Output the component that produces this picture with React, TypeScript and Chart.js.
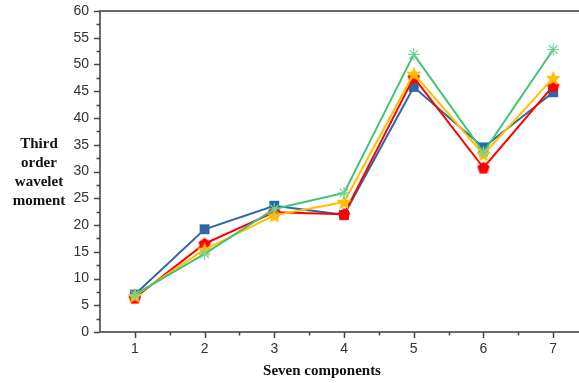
import React, { useEffect, useRef } from "react";
import { Chart, registerables } from "chart.js";

Chart.register(...registerables);

const categories = [1, 2, 3, 4, 5, 6, 7];
const blueValues = [7.0, 19.2, 23.6, 21.9, 45.8, 34.5, 44.8];
const redValues = [6.4, 16.5, 22.4, 22.0, 47.6, 30.7, 46.0];
const yellowValues = [6.8, 15.4, 21.8, 24.3, 48.3, 33.2, 47.5];
const greenValues = [7.0, 14.6, 23.0, 26.0, 51.9, 33.6, 52.8];
const yTitleLines = ["Third", "order", "wavelet", "moment"];
const xTitle = "Seven components";

function makeShape(kind: "pentagon" | "star", color: string, size: number) {
  const c = document.createElement("canvas");
  c.width = size;
  c.height = size;
  const ctx = c.getContext("2d")!;
  const cx = size / 2;
  const cy = size / 2;
  ctx.fillStyle = color;
  ctx.beginPath();
  if (kind === "pentagon") {
    const r = size / 2 - 0.5;
    for (let i = 0; i < 5; i++) {
      const a = -Math.PI / 2 + (i * 2 * Math.PI) / 5;
      const px = cx + r * Math.cos(a);
      const py = cy + r * Math.sin(a) + 0.6;
      if (i === 0) ctx.moveTo(px, py);
      else ctx.lineTo(px, py);
    }
  } else {
    const ro = size / 2;
    const ri = ro * 0.45;
    for (let i = 0; i < 10; i++) {
      const a = -Math.PI / 2 + (i * Math.PI) / 5;
      const r = i % 2 === 0 ? ro : ri;
      const px = cx + r * Math.cos(a);
      const py = cy + r * Math.sin(a) + 0.8;
      if (i === 0) ctx.moveTo(px, py);
      else ctx.lineTo(px, py);
    }
  }
  ctx.closePath();
  ctx.fill();
  return c;
}

const decorPlugin = {
  id: "decor",
  afterDraw(chart: any) {
    const ctx = chart.ctx;
    const area = chart.chartArea;
    const xs = chart.scales.x;
    const ys = chart.scales.y;
    ctx.save();
    // top border
    ctx.strokeStyle = "#6b6b6b";
    ctx.lineWidth = 2;
    ctx.beginPath();
    ctx.moveTo(area.left - 1, area.top);
    ctx.lineTo(chart.width, area.top);
    ctx.stroke();
    // y ticks
    ctx.strokeStyle = "#444";
    ctx.lineWidth = 1.5;
    for (let v = ys.min; v <= ys.max + 0.001; v += 2.5) {
      const py = Math.round(ys.getPixelForValue(v)) + 0.5;
      const len = Math.abs(v % 5) < 0.001 ? 6 : 3.5;
      ctx.beginPath();
      ctx.moveTo(area.left - len, py);
      ctx.lineTo(area.left, py);
      ctx.stroke();
    }
    // x ticks
    for (let v = 1; v <= xs.max; v += 0.5) {
      const px = Math.round(xs.getPixelForValue(v)) + 0.5;
      const len = Math.abs(v % 1) < 0.001 ? 6 : 3.5;
      ctx.beginPath();
      ctx.moveTo(px, area.bottom);
      ctx.lineTo(px, area.bottom + len);
      ctx.stroke();
    }
    // titles
    ctx.fillStyle = "#111";
    ctx.font = "bold 15px 'Liberation Serif', 'Times New Roman', serif";
    ctx.textAlign = "center";
    ctx.textBaseline = "middle";
    yTitleLines.forEach((line, i) => {
      ctx.fillText(line, 39, 144 + i * 19);
    });
    ctx.fillText(xTitle, 322, 371);
    ctx.restore();
  },
};

export default function App() {
  const canvasRef = useRef<HTMLCanvasElement | null>(null);

  useEffect(() => {
    if (!canvasRef.current) return;
    const pent = makeShape("pentagon", "#ff0000", 14);
    const star = makeShape("star", "#ffc000", 16);
    const toPts = (vals: number[]) => categories.map((c, i) => ({ x: c, y: vals[i] }));
    const chart = new Chart(canvasRef.current, {
      type: "line",
      data: {
        datasets: [
          {
            label: "green",
            data: toPts(greenValues),
            borderColor: "#45c07a",
            backgroundColor: "#45c07a",
            borderWidth: 2,
            pointStyle: "star",
            pointRadius: 6,
            pointBorderWidth: 1.2,
            pointBorderColor: "#6fd39a",
            order: 0,
          },
          {
            label: "yellow",
            data: toPts(yellowValues),
            borderColor: "#ffc000",
            backgroundColor: "#ffc000",
            borderWidth: 2,
            pointStyle: star as any,
            order: 1,
          },
          {
            label: "red",
            data: toPts(redValues),
            borderColor: "#ff0000",
            backgroundColor: "#ff0000",
            borderWidth: 2,
            pointStyle: pent as any,
            order: 2,
          },
          {
            label: "blue",
            data: toPts(blueValues),
            borderColor: "#2f67a3",
            backgroundColor: "#2f67a3",
            borderWidth: 2,
            pointStyle: "rect",
            pointRadius: 7,
            pointBorderWidth: 0,
            order: 3,
          },
        ],
      },
      options: {
        animation: false,
        responsive: false,
        maintainAspectRatio: false,
        layout: { autoPadding: false, padding: { top: 11, left: 0, right: 0, bottom: 0 } },
        plugins: { legend: { display: false }, tooltip: { enabled: false } },
        elements: { line: { tension: 0 } },
        scales: {
          x: {
            type: "linear",
            min: 0.5,
            max: 7.37,
            grid: { display: false, drawTicks: false },
            border: { display: true, color: "#6b6b6b", width: 2 },
            ticks: {
              stepSize: 1,
              includeBounds: false,
              padding: 9,
              color: "#333",
              font: { family: "'Liberation Sans', Arial, sans-serif", size: 14 },
              callback: (v: any) => (Number.isInteger(v) && v >= 1 && v <= 7 ? String(v) : ""),
            },
            afterFit: (s: any) => {
              s.height = 51;
              s.paddingLeft = 0;
              s.paddingRight = 0;
            },
          },
          y: {
            min: 0,
            max: 60,
            grid: { display: false, drawTicks: false },
            border: { display: true, color: "#6b6b6b", width: 2 },
            ticks: {
              stepSize: 5,
              padding: 11,
              color: "#333",
              font: { family: "'Liberation Sans', Arial, sans-serif", size: 14 },
            },
            afterFit: (s: any) => {
              s.width = 100;
              s.paddingTop = 0;
              s.paddingBottom = 0;
            },
          },
        },
      },
      plugins: [decorPlugin],
    });
    return () => chart.destroy();
  }, []);

  return (
    <div style={{ position: "fixed", left: 0, top: 0, width: 579, height: 383, background: "#fff" }}>
      <canvas ref={canvasRef} width={579} height={383} style={{ width: 579, height: 383 }} />
    </div>
  );
}
